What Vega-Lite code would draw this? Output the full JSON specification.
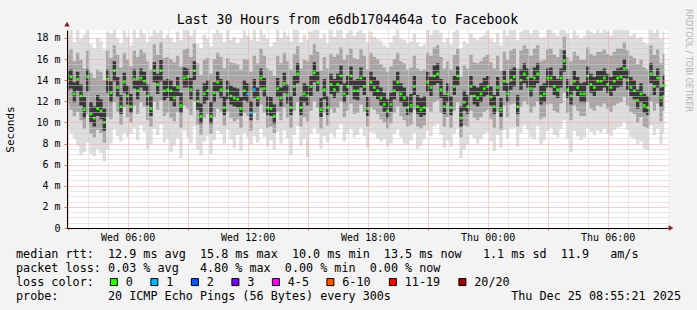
{
"$schema":"https://vega.github.io/schema/vega-lite/v6.json",
"width":601,"height":198,
"autosize":"none",
"padding":{"left":67,"top":30,"right":29,"bottom":82},
"background":"#f3f3f3",
"config":{"view":{"stroke":null,"fill":"#ffffff"},"font":"DejaVu Sans Mono"},
"title":{"text":"Last 30 Hours from e6db1704464a to Facebook","font":"DejaVu Sans Mono","fontSize":13.2,"fontWeight":"normal","color":"#000000","anchor":"middle","dx":-20,"offset":0,"dy":29,"baseline":"alphabetic"},
"datasets":{"arrx":[{"t":1990,"v":0}],"arry":[{"t":178,"v":19.3}]},
"data":{"values":[
{"t":180,"m":13.9,"a":9.6,"b":11.8,"c":13.0,"d":14.9,"e":16.5,"f":18.2,"l":"0"},
{"t":190,"m":14.3,"a":9.0,"b":11.2,"c":13.2,"d":15.0,"e":16.9,"f":18.9,"l":"0"},
{"t":200,"m":12.7,"a":8.5,"b":10.6,"c":11.9,"d":13.8,"e":15.8,"f":17.6,"l":"0"},
{"t":210,"m":14.1,"a":7.8,"b":11.0,"c":13.0,"d":14.8,"e":16.6,"f":18.8,"l":"0"},
{"t":220,"m":12.5,"a":6.9,"b":10.2,"c":11.6,"d":13.6,"e":15.9,"f":17.9,"l":"0"},
{"t":230,"m":11.2,"a":7.2,"b":9.4,"c":10.4,"d":12.4,"e":15.1,"f":18.3,"l":"0"},
{"t":240,"m":14.3,"a":8.1,"b":10.8,"c":12.9,"d":15.0,"e":16.8,"f":19.2,"l":"0"},
{"t":250,"m":10.8,"a":7.0,"b":8.9,"c":10.0,"d":11.9,"e":14.7,"f":17.4,"l":"0"},
{"t":260,"m":10.4,"a":6.8,"b":8.6,"c":9.6,"d":11.5,"e":14.2,"f":17.0,"l":"0"},
{"t":270,"m":11.3,"a":7.5,"b":9.3,"c":10.6,"d":12.6,"e":15.0,"f":18.0,"l":"0"},
{"t":280,"m":11.1,"a":7.1,"b":9.0,"c":10.3,"d":12.2,"e":14.8,"f":17.7,"l":"0"},
{"t":290,"m":10.0,"a":6.3,"b":8.1,"c":9.2,"d":11.3,"e":14.0,"f":16.9,"l":"0"},
{"t":300,"m":14.1,"a":7.4,"b":10.5,"c":12.8,"d":15.0,"e":16.8,"f":18.6,"l":"0"},
{"t":310,"m":12.8,"a":8.0,"b":10.3,"c":11.9,"d":13.9,"e":16.1,"f":18.4,"l":"0"},
{"t":320,"m":14.9,"a":9.3,"b":11.9,"c":13.9,"d":15.8,"e":17.3,"f":19.3,"l":"0"},
{"t":330,"m":13.3,"a":8.7,"b":11.0,"c":12.4,"d":14.3,"e":16.4,"f":18.0,"l":"0"},
{"t":340,"m":11.5,"a":8.2,"b":9.8,"c":10.8,"d":12.6,"e":15.2,"f":17.5,"l":"0"},
{"t":350,"m":13.8,"a":9.0,"b":11.4,"c":12.8,"d":14.7,"e":16.6,"f":18.7,"l":"0"},
{"t":360,"m":12.5,"a":8.6,"b":10.5,"c":11.7,"d":13.5,"e":15.9,"f":18.1,"l":"0"},
{"t":370,"m":11.5,"a":8.9,"b":10.0,"c":10.9,"d":12.7,"e":15.3,"f":17.3,"l":"0"},
{"t":380,"m":14.1,"a":9.5,"b":11.6,"c":13.2,"d":15.0,"e":16.8,"f":18.9,"l":"0"},
{"t":390,"m":13.0,"a":8.3,"b":10.8,"c":12.2,"d":14.0,"e":16.2,"f":18.0,"l":"0"},
{"t":400,"m":14.2,"a":9.7,"b":11.9,"c":13.3,"d":15.1,"e":16.9,"f":19.0,"l":"0"},
{"t":410,"m":13.9,"a":9.1,"b":11.5,"c":13.0,"d":14.8,"e":16.6,"f":18.4,"l":"0"},
{"t":420,"m":12.5,"a":7.5,"b":10.2,"c":11.6,"d":13.6,"e":15.8,"f":17.6,"l":"0"},
{"t":430,"m":11.3,"a":7.9,"b":9.6,"c":10.6,"d":12.5,"e":15.0,"f":18.2,"l":"0"},
{"t":440,"m":14.9,"a":9.4,"b":12.0,"c":13.8,"d":15.7,"e":17.4,"f":19.4,"l":"0"},
{"t":450,"m":13.6,"a":8.8,"b":11.2,"c":12.7,"d":14.6,"e":16.4,"f":18.5,"l":"0"},
{"t":460,"m":14.9,"a":9.8,"b":12.1,"c":13.9,"d":15.9,"e":17.6,"f":19.1,"l":"0"},
{"t":470,"m":13.0,"a":8.1,"b":10.6,"c":12.1,"d":14.0,"e":16.1,"f":17.9,"l":"0"},
{"t":480,"m":13.1,"a":8.4,"b":10.9,"c":12.3,"d":14.1,"e":16.2,"f":18.3,"l":"0"},
{"t":490,"m":13.0,"a":7.2,"b":10.4,"c":12.0,"d":14.0,"e":16.0,"f":18.0,"l":"0"},
{"t":500,"m":12.3,"a":7.8,"b":10.1,"c":11.5,"d":13.4,"e":15.7,"f":17.6,"l":"0"},
{"t":510,"m":13.3,"a":8.5,"b":11.0,"c":12.5,"d":14.3,"e":16.3,"f":18.6,"l":"0"},
{"t":520,"m":11.6,"a":6.6,"b":9.5,"c":10.9,"d":12.8,"e":15.3,"f":17.8,"l":"0"},
{"t":530,"m":14.2,"a":9.2,"b":11.6,"c":13.3,"d":15.2,"e":16.9,"f":19.1,"l":"0"},
{"t":540,"m":14.3,"a":8.6,"b":11.3,"c":13.3,"d":15.1,"e":17.0,"f":18.7,"l":"0"},
{"t":550,"m":13.1,"a":8.0,"b":10.7,"c":12.2,"d":14.2,"e":16.2,"f":18.2,"l":"0"},
{"t":560,"m":14.9,"a":9.6,"b":12.0,"c":14.0,"d":15.8,"e":17.5,"f":19.3,"l":"0"},
{"t":570,"m":12.0,"a":7.4,"b":9.8,"c":11.2,"d":13.1,"e":15.6,"f":17.4,"l":"0"},
{"t":580,"m":10.6,"a":6.9,"b":8.8,"c":9.9,"d":11.8,"e":14.5,"f":17.0,"l":"0"},
{"t":590,"m":12.7,"a":8.2,"b":10.4,"c":11.8,"d":13.7,"e":15.9,"f":18.3,"l":"0"},
{"t":600,"m":13.0,"a":8.7,"b":10.8,"c":12.1,"d":14.0,"e":16.1,"f":17.9,"l":"0"},
{"t":610,"m":10.6,"a":7.0,"b":8.9,"c":9.9,"d":11.9,"e":14.6,"f":17.2,"l":"0"},
{"t":620,"m":12.8,"a":8.3,"b":10.5,"c":11.9,"d":13.8,"e":16.0,"f":18.4,"l":"0"},
{"t":630,"m":13.8,"a":9.2,"b":11.3,"c":12.9,"d":14.8,"e":16.6,"f":18.8,"l":"0"},
{"t":640,"m":13.1,"a":8.9,"b":11.0,"c":12.3,"d":14.1,"e":16.2,"f":18.5,"l":"0"},
{"t":650,"m":11.4,"a":8.0,"b":9.7,"c":10.7,"d":12.5,"e":15.1,"f":17.6,"l":"0"},
{"t":660,"m":13.0,"a":9.3,"b":11.0,"c":12.2,"d":14.0,"e":16.1,"f":18.9,"l":"0"},
{"t":670,"m":12.5,"a":8.4,"b":10.4,"c":11.7,"d":13.5,"e":15.7,"f":17.8,"l":"0"},
{"t":680,"m":12.3,"a":7.6,"b":10.1,"c":11.5,"d":13.3,"e":15.6,"f":18.1,"l":"0"},
{"t":690,"m":12.2,"a":8.8,"b":10.3,"c":11.4,"d":13.2,"e":15.5,"f":17.5,"l":"0"},
{"t":700,"m":11.3,"a":7.3,"b":9.5,"c":10.6,"d":12.4,"e":15.0,"f":17.9,"l":"0"},
{"t":710,"m":13.0,"a":9.0,"b":10.9,"c":12.1,"d":14.0,"e":16.0,"f":18.7,"l":"0"},
{"t":720,"m":12.7,"a":8.6,"b":10.6,"c":11.9,"d":13.7,"e":15.9,"f":18.2,"l":"1"},
{"t":730,"m":10.9,"a":7.9,"b":9.2,"c":10.2,"d":12.0,"e":14.8,"f":17.8,"l":"1"},
{"t":740,"m":13.1,"a":8.7,"b":10.9,"c":12.3,"d":14.1,"e":16.3,"f":18.9,"l":"1"},
{"t":750,"m":12.3,"a":8.1,"b":10.2,"c":11.5,"d":13.3,"e":15.6,"f":17.7,"l":"0"},
{"t":760,"m":14.2,"a":9.4,"b":11.7,"c":13.3,"d":15.1,"e":17.0,"f":19.4,"l":"0"},
{"t":770,"m":13.2,"a":8.6,"b":10.9,"c":12.4,"d":14.2,"e":16.3,"f":18.3,"l":"0"},
{"t":780,"m":11.4,"a":7.7,"b":9.5,"c":10.7,"d":12.5,"e":15.1,"f":17.9,"l":"0"},
{"t":790,"m":11.3,"a":8.3,"b":9.6,"c":10.6,"d":12.4,"e":14.9,"f":17.2,"l":"0"},
{"t":800,"m":10.6,"a":7.4,"b":9.0,"c":9.9,"d":11.7,"e":14.4,"f":17.6,"l":"0"},
{"t":810,"m":13.2,"a":9.1,"b":11.0,"c":12.4,"d":14.2,"e":16.3,"f":18.8,"l":"0"},
{"t":820,"m":12.3,"a":8.0,"b":10.2,"c":11.5,"d":13.3,"e":15.6,"f":18.0,"l":"0"},
{"t":830,"m":13.7,"a":9.2,"b":11.4,"c":12.8,"d":14.7,"e":16.6,"f":18.6,"l":"0"},
{"t":840,"m":12.6,"a":8.5,"b":10.4,"c":11.8,"d":13.6,"e":15.8,"f":18.2,"l":"0"},
{"t":850,"m":11.4,"a":6.9,"b":9.5,"c":10.7,"d":12.5,"e":15.0,"f":17.7,"l":"0"},
{"t":860,"m":13.4,"a":8.8,"b":11.1,"c":12.5,"d":14.4,"e":16.5,"f":18.9,"l":"0"},
{"t":870,"m":14.6,"a":9.6,"b":11.9,"c":13.7,"d":15.6,"e":17.2,"f":19.5,"l":"0"},
{"t":880,"m":11.4,"a":7.8,"b":9.6,"c":10.7,"d":12.5,"e":15.1,"f":17.6,"l":"0"},
{"t":890,"m":12.7,"a":8.4,"b":10.5,"c":11.9,"d":13.7,"e":15.9,"f":18.3,"l":"0"},
{"t":900,"m":12.5,"a":6.7,"b":10.1,"c":11.6,"d":13.5,"e":15.8,"f":17.8,"l":"0"},
{"t":910,"m":13.4,"a":8.9,"b":11.1,"c":12.5,"d":14.4,"e":16.4,"f":18.6,"l":"0"},
{"t":920,"m":14.7,"a":9.5,"b":12.0,"c":13.8,"d":15.7,"e":17.4,"f":19.2,"l":"0"},
{"t":930,"m":13.8,"a":9.0,"b":11.4,"c":12.9,"d":14.8,"e":16.7,"f":18.8,"l":"0"},
{"t":940,"m":11.2,"a":7.5,"b":9.4,"c":10.5,"d":12.3,"e":14.9,"f":17.9,"l":"0"},
{"t":950,"m":13.1,"a":8.7,"b":10.9,"c":12.2,"d":14.1,"e":16.2,"f":18.4,"l":"0"},
{"t":960,"m":11.4,"a":8.1,"b":9.7,"c":10.7,"d":12.5,"e":15.1,"f":17.5,"l":"0"},
{"t":970,"m":13.6,"a":9.0,"b":11.3,"c":12.7,"d":14.6,"e":16.5,"f":18.9,"l":"0"},
{"t":980,"m":13.1,"a":8.6,"b":10.9,"c":12.3,"d":14.1,"e":16.2,"f":18.1,"l":"0"},
{"t":990,"m":13.6,"a":9.3,"b":11.4,"c":12.8,"d":14.6,"e":16.5,"f":18.7,"l":"0"},
{"t":1000,"m":14.4,"a":9.8,"b":12.0,"c":13.6,"d":15.4,"e":17.1,"f":19.2,"l":"0"},
{"t":1010,"m":12.7,"a":8.2,"b":10.5,"c":11.9,"d":13.7,"e":15.9,"f":18.0,"l":"0"},
{"t":1020,"m":13.4,"a":8.9,"b":11.1,"c":12.6,"d":14.4,"e":16.4,"f":18.5,"l":"0"},
{"t":1030,"m":14.4,"a":9.4,"b":11.8,"c":13.5,"d":15.3,"e":17.0,"f":19.0,"l":"0"},
{"t":1040,"m":13.0,"a":8.6,"b":10.8,"c":12.2,"d":14.0,"e":16.1,"f":18.2,"l":"0"},
{"t":1050,"m":13.0,"a":8.8,"b":10.9,"c":12.1,"d":14.1,"e":16.0,"f":18.6,"l":"0"},
{"t":1060,"m":14.2,"a":9.5,"b":11.7,"c":13.3,"d":15.2,"e":16.9,"f":18.9,"l":"0"},
{"t":1070,"m":13.4,"a":8.7,"b":11.0,"c":12.6,"d":14.3,"e":16.3,"f":18.4,"l":"0"},
{"t":1080,"m":11.3,"a":7.6,"b":9.6,"c":10.6,"d":12.4,"e":15.0,"f":17.6,"l":"0"},
{"t":1090,"m":13.8,"a":9.1,"b":11.4,"c":12.9,"d":14.8,"e":16.6,"f":18.6,"l":"0"},
{"t":1100,"m":13.3,"a":9.0,"b":11.2,"c":12.5,"d":14.3,"e":16.2,"f":18.1,"l":"0"},
{"t":1110,"m":13.0,"a":8.5,"b":10.8,"c":12.2,"d":14.0,"e":16.0,"f":17.9,"l":"0"},
{"t":1120,"m":12.3,"a":8.2,"b":10.3,"c":11.6,"d":13.3,"e":15.5,"f":17.7,"l":"0"},
{"t":1130,"m":11.7,"a":8.4,"b":10.0,"c":11.0,"d":12.8,"e":15.2,"f":17.3,"l":"0"},
{"t":1140,"m":11.1,"a":7.7,"b":9.4,"c":10.4,"d":12.2,"e":14.8,"f":17.1,"l":"0"},
{"t":1150,"m":11.7,"a":8.0,"b":9.9,"c":11.0,"d":12.8,"e":15.3,"f":17.6,"l":"0"},
{"t":1160,"m":13.0,"a":8.9,"b":10.9,"c":12.2,"d":14.0,"e":16.0,"f":18.2,"l":"0"},
{"t":1170,"m":13.8,"a":9.3,"b":11.5,"c":12.9,"d":14.8,"e":16.6,"f":18.8,"l":"0"},
{"t":1180,"m":12.7,"a":8.6,"b":10.6,"c":11.9,"d":13.7,"e":15.8,"f":17.9,"l":"0"},
{"t":1190,"m":12.3,"a":8.0,"b":10.2,"c":11.5,"d":13.3,"e":15.6,"f":17.8,"l":"0"},
{"t":1200,"m":11.4,"a":7.9,"b":9.6,"c":10.7,"d":12.5,"e":15.0,"f":17.5,"l":"0"},
{"t":1210,"m":11.6,"a":8.3,"b":9.8,"c":10.9,"d":12.7,"e":15.2,"f":17.7,"l":"0"},
{"t":1220,"m":13.4,"a":9.0,"b":11.2,"c":12.6,"d":14.4,"e":16.3,"f":18.4,"l":"0"},
{"t":1230,"m":11.5,"a":7.5,"b":9.6,"c":10.8,"d":12.6,"e":15.1,"f":17.6,"l":"0"},
{"t":1240,"m":11.2,"a":7.8,"b":9.4,"c":10.5,"d":12.3,"e":14.9,"f":17.2,"l":"0"},
{"t":1250,"m":11.4,"a":8.4,"b":9.7,"c":10.7,"d":12.5,"e":15.0,"f":17.4,"l":"0"},
{"t":1260,"m":13.8,"a":9.2,"b":11.4,"c":12.9,"d":14.8,"e":16.6,"f":18.9,"l":"0"},
{"t":1270,"m":13.3,"a":8.7,"b":11.0,"c":12.5,"d":14.3,"e":16.3,"f":18.3,"l":"0"},
{"t":1280,"m":14.4,"a":9.6,"b":11.9,"c":13.5,"d":15.4,"e":17.1,"f":19.1,"l":"0"},
{"t":1290,"m":14.6,"a":9.8,"b":12.1,"c":13.7,"d":15.6,"e":17.3,"f":18.9,"l":"0"},
{"t":1300,"m":13.1,"a":8.8,"b":10.9,"c":12.3,"d":14.1,"e":16.2,"f":18.5,"l":"0"},
{"t":1310,"m":11.5,"a":7.6,"b":9.6,"c":10.8,"d":12.6,"e":15.1,"f":17.6,"l":"0"},
{"t":1320,"m":12.7,"a":8.3,"b":10.5,"c":11.9,"d":13.7,"e":15.8,"f":18.0,"l":"0"},
{"t":1330,"m":11.4,"a":7.7,"b":9.5,"c":10.7,"d":12.5,"e":15.0,"f":17.4,"l":"0"},
{"t":1340,"m":13.4,"a":8.9,"b":11.1,"c":12.6,"d":14.4,"e":16.4,"f":18.6,"l":"0"},
{"t":1350,"m":14.4,"a":9.4,"b":11.9,"c":13.5,"d":15.3,"e":17.0,"f":19.0,"l":"0"},
{"t":1360,"m":10.4,"a":6.6,"b":8.6,"c":9.6,"d":11.5,"e":14.3,"f":17.0,"l":"0"},
{"t":1370,"m":11.9,"a":7.4,"b":9.7,"c":11.1,"d":13.0,"e":15.4,"f":17.7,"l":"0"},
{"t":1380,"m":11.5,"a":7.9,"b":9.6,"c":10.8,"d":12.6,"e":15.1,"f":17.5,"l":"0"},
{"t":1390,"m":13.4,"a":8.8,"b":11.1,"c":12.6,"d":14.4,"e":16.4,"f":18.4,"l":"0"},
{"t":1400,"m":12.5,"a":8.5,"b":10.4,"c":11.7,"d":13.5,"e":15.7,"f":18.0,"l":"0"},
{"t":1410,"m":12.3,"a":8.0,"b":10.2,"c":11.5,"d":13.3,"e":15.6,"f":17.8,"l":"0"},
{"t":1420,"m":12.7,"a":8.4,"b":10.5,"c":11.9,"d":13.7,"e":15.8,"f":18.1,"l":"0"},
{"t":1430,"m":13.2,"a":8.9,"b":11.0,"c":12.4,"d":14.2,"e":16.2,"f":18.3,"l":"0"},
{"t":1440,"m":13.4,"a":9.1,"b":11.2,"c":12.6,"d":14.4,"e":16.4,"f":18.7,"l":"0"},
{"t":1450,"m":12.4,"a":8.2,"b":10.3,"c":11.6,"d":13.4,"e":15.7,"f":17.9,"l":"0"},
{"t":1460,"m":11.5,"a":7.3,"b":9.5,"c":10.8,"d":12.6,"e":15.1,"f":17.6,"l":"0"},
{"t":1470,"m":13.3,"a":8.8,"b":11.0,"c":12.5,"d":14.3,"e":16.3,"f":18.5,"l":"0"},
{"t":1480,"m":11.2,"a":7.6,"b":9.3,"c":10.5,"d":12.3,"e":14.9,"f":17.3,"l":"0"},
{"t":1490,"m":13.9,"a":9.3,"b":11.6,"c":13.0,"d":14.9,"e":16.7,"f":18.9,"l":"0"},
{"t":1500,"m":12.7,"a":8.5,"b":10.5,"c":11.9,"d":13.7,"e":15.9,"f":18.2,"l":"0"},
{"t":1510,"m":14.0,"a":9.4,"b":11.7,"c":13.1,"d":15.0,"e":16.8,"f":18.8,"l":"0"},
{"t":1520,"m":14.3,"a":9.5,"b":11.8,"c":13.4,"d":15.2,"e":17.0,"f":19.2,"l":"0"},
{"t":1530,"m":11.5,"a":7.7,"b":9.6,"c":10.8,"d":12.6,"e":15.1,"f":17.8,"l":"0"},
{"t":1540,"m":14.0,"a":9.0,"b":11.5,"c":13.1,"d":15.0,"e":16.8,"f":18.6,"l":"0"},
{"t":1550,"m":14.6,"a":9.7,"b":12.0,"c":13.7,"d":15.6,"e":17.3,"f":19.3,"l":"0"},
{"t":1560,"m":14.2,"a":9.3,"b":11.7,"c":13.3,"d":15.1,"e":17.0,"f":19.0,"l":"0"},
{"t":1570,"m":13.2,"a":8.6,"b":10.9,"c":12.4,"d":14.2,"e":16.3,"f":18.4,"l":"0"},
{"t":1580,"m":14.2,"a":8.4,"b":11.5,"c":13.3,"d":15.2,"e":17.0,"f":18.8,"l":"0"},
{"t":1590,"m":14.6,"a":9.6,"b":12.0,"c":13.7,"d":15.6,"e":17.3,"f":19.4,"l":"0"},
{"t":1600,"m":12.5,"a":7.9,"b":10.3,"c":11.7,"d":13.5,"e":15.8,"f":18.0,"l":"0"},
{"t":1610,"m":12.7,"a":8.3,"b":10.5,"c":11.9,"d":13.7,"e":15.9,"f":18.1,"l":"0"},
{"t":1620,"m":14.2,"a":9.2,"b":11.7,"c":13.3,"d":15.1,"e":16.9,"f":18.9,"l":"0"},
{"t":1630,"m":14.2,"a":9.5,"b":11.8,"c":13.3,"d":15.2,"e":17.0,"f":19.3,"l":"0"},
{"t":1640,"m":13.4,"a":8.8,"b":11.1,"c":12.6,"d":14.4,"e":16.4,"f":18.5,"l":"0"},
{"t":1650,"m":13.1,"a":8.6,"b":10.9,"c":12.3,"d":14.1,"e":16.2,"f":18.2,"l":"0"},
{"t":1660,"m":14.2,"a":9.4,"b":11.8,"c":13.3,"d":15.1,"e":16.9,"f":19.5,"l":"0"},
{"t":1670,"m":15.8,"a":10.2,"b":12.8,"c":14.8,"d":16.8,"e":18.1,"f":19.5,"l":"0"},
{"t":1680,"m":13.1,"a":8.5,"b":10.9,"c":12.3,"d":14.1,"e":16.2,"f":18.4,"l":"0"},
{"t":1690,"m":12.5,"a":7.2,"b":10.2,"c":11.7,"d":13.5,"e":15.8,"f":17.9,"l":"0"},
{"t":1700,"m":13.9,"a":9.2,"b":11.6,"c":13.0,"d":14.9,"e":16.7,"f":18.7,"l":"0"},
{"t":1710,"m":13.3,"a":8.7,"b":11.1,"c":12.5,"d":14.3,"e":16.3,"f":18.3,"l":"0"},
{"t":1720,"m":12.7,"a":8.3,"b":10.6,"c":11.9,"d":13.7,"e":15.9,"f":18.0,"l":"0"},
{"t":1730,"m":12.7,"a":8.6,"b":10.6,"c":11.9,"d":13.8,"e":15.9,"f":18.2,"l":"0"},
{"t":1740,"m":14.4,"a":9.5,"b":11.9,"c":13.5,"d":15.3,"e":17.1,"f":19.0,"l":"0"},
{"t":1750,"m":13.6,"a":9.1,"b":11.3,"c":12.8,"d":14.6,"e":16.5,"f":18.6,"l":"0"},
{"t":1760,"m":13.3,"a":8.8,"b":11.1,"c":12.5,"d":14.3,"e":16.3,"f":18.4,"l":"0"},
{"t":1770,"m":13.9,"a":9.2,"b":11.6,"c":13.0,"d":14.9,"e":16.7,"f":18.8,"l":"0"},
{"t":1780,"m":13.9,"a":9.0,"b":11.5,"c":13.0,"d":14.9,"e":16.7,"f":18.5,"l":"0"},
{"t":1790,"m":14.2,"a":9.4,"b":11.8,"c":13.3,"d":15.1,"e":16.9,"f":18.9,"l":"0"},
{"t":1800,"m":13.6,"a":8.9,"b":11.3,"c":12.8,"d":14.6,"e":16.5,"f":18.6,"l":"0"},
{"t":1810,"m":13.3,"a":8.7,"b":11.0,"c":12.5,"d":14.3,"e":16.3,"f":18.2,"l":"0"},
{"t":1820,"m":13.9,"a":9.3,"b":11.6,"c":13.0,"d":14.9,"e":16.7,"f":18.9,"l":"0"},
{"t":1830,"m":14.2,"a":9.5,"b":11.8,"c":13.3,"d":15.1,"e":17.0,"f":19.1,"l":"0"},
{"t":1840,"m":14.3,"a":9.6,"b":11.9,"c":13.4,"d":15.2,"e":17.0,"f":18.8,"l":"0"},
{"t":1850,"m":15.1,"a":10.0,"b":12.4,"c":14.2,"d":16.0,"e":17.6,"f":19.3,"l":"0"},
{"t":1860,"m":14.0,"a":9.3,"b":11.6,"c":13.1,"d":15.0,"e":16.8,"f":18.7,"l":"0"},
{"t":1870,"m":13.3,"a":8.6,"b":11.0,"c":12.5,"d":14.3,"e":16.3,"f":18.2,"l":"0"},
{"t":1880,"m":13.0,"a":8.4,"b":10.8,"c":12.2,"d":14.0,"e":16.1,"f":18.4,"l":"0"},
{"t":1890,"m":12.1,"a":7.9,"b":10.0,"c":11.3,"d":13.1,"e":15.5,"f":17.9,"l":"0"},
{"t":1900,"m":12.7,"a":8.2,"b":10.5,"c":11.9,"d":13.7,"e":15.9,"f":18.1,"l":"0"},
{"t":1910,"m":11.6,"a":7.5,"b":9.6,"c":10.9,"d":12.7,"e":15.2,"f":17.6,"l":"0"},
{"t":1920,"m":11.4,"a":7.4,"b":9.5,"c":10.7,"d":12.5,"e":15.0,"f":17.4,"l":"0"},
{"t":1930,"m":14.6,"a":9.7,"b":12.0,"c":13.7,"d":15.6,"e":17.3,"f":19.5,"l":"0"},
{"t":1940,"m":13.4,"a":8.8,"b":11.1,"c":12.6,"d":14.4,"e":16.4,"f":18.5,"l":"0"},
{"t":1950,"m":14.2,"a":9.4,"b":11.8,"c":13.3,"d":15.1,"e":16.9,"f":18.8,"l":"0"},
{"t":1960,"m":12.3,"a":8.0,"b":10.1,"c":11.5,"d":13.3,"e":15.6,"f":17.9,"l":"0"},
{"t":1970,"m":13.5,"a":8.9,"b":11.1,"c":12.6,"d":14.5,"e":16.5,"f":18.6,"l":"0"}
]},
"encoding":{
 "x":{"field":"t","type":"quantitative","scale":{"domain":[178,1981],"nice":false,"zero":false},
  "axis":{"values":[180,240,300,360,420,480,540,600,660,720,780,840,900,960,1020,1080,1140,1200,1260,1320,1380,1440,1500,1560,1620,1680,1740,1800,1860,1920],
   "zindex":1,"grid":true,"gridDash":[1,1],"gridWidth":1,
   "gridColor":{"condition":{"test":"datum.value % 180 == 0","value":"#eaa3a3"},"value":"#cfcfcf"},
   "domain":true,"domainColor":"#000000","domainWidth":1,
   "ticks":true,"tickSize":2,"tickColor":{"condition":{"test":"datum.value % 180 == 0","value":"#e07070"},"value":"#bbbbbb"},
   "labelExpr":"datum.value % 360 ? '' : (datum.value < 1440 ? 'Wed ' : 'Thu ') + (datum.value % 1440 == 0 ? '00' : datum.value % 1440 == 360 ? '06' : datum.value % 1440 == 720 ? '12' : '18') + ':00'",
   "labelFont":"DejaVu Sans Mono","labelFontSize":10,"labelColor":"#000000","labelPadding":2.5,"labelOverlap":false,"labelFlush":false,"labelBound":false,
   "title":["median rtt:\u00a0\u00a012.9 ms avg\u00a0\u00a015.8 ms max\u00a0\u00a010.0 ms min\u00a0\u00a013.5 ms now\u00a0\u00a0\u00a01.1 ms sd\u00a0\u00a011.9\u00a0\u00a0\u00a0am/s",
            "packet loss: 0.03 % avg\u00a0\u00a0\u00a04.80 % max\u00a0\u00a00.00 % min\u00a0\u00a00.00 % now",
            "loss color:",
            "probe:\u00a0\u00a0\u00a0\u00a0\u00a0\u00a0\u00a020 ICMP Echo Pings (56 Bytes) every 300s\u00a0\u00a0\u00a0\u00a0\u00a0\u00a0\u00a0\u00a0\u00a0\u00a0\u00a0\u00a0\u00a0\u00a0\u00a0\u00a0\u00a0Thu Dec 25 08:55:21 2025"],
   "titleFont":"DejaVu Sans Mono","titleFontSize":11.75,"titleFontWeight":"normal","titleColor":"#000000",
   "titleX":-51.5,"titleY":20,"titleAlign":"left","titleBaseline":"top","titleLineHeight":14}}
},
"resolve":{"axis":{"y":"independent"}},
"layer":[
{"mark":{"type":"area","interpolate":"step","color":"#dddddd","clip":true},
 "encoding":{
  "y":{"field":"a","type":"quantitative","scale":{"domain":[0,18.75],"nice":false,"zero":true},
   "axis":{"orient":"left","values":[0,0.5,1,1.5,2,2.5,3,3.5,4,4.5,5,5.5,6,6.5,7,7.5,8,8.5,9,9.5,10,10.5,11,11.5,12,12.5,13,13.5,14,14.5,15,15.5,16,16.5,17,17.5,18,18.5],
    "zindex":1,"grid":true,"gridDash":[1,1],"gridWidth":1,
    "gridColor":{"condition":{"test":"datum.value % 2 == 0","value":"#eaa3a3"},"value":"#cfcfcf"},
    "domain":true,"domainColor":"#000000","domainWidth":1,
    "ticks":true,"tickSize":3,"tickColor":{"condition":{"test":"datum.value % 2 == 0","value":"#e07070"},"value":"#00000000"},
    "labelExpr":"datum.value % 2 ? '' : (datum.value == 0 ? '0' : datum.value + ' m')",
    "labelFont":"DejaVu Sans Mono","labelFontSize":10,"labelColor":"#000000","labelPadding":4,"labelOverlap":false,"labelFlush":false,"labelBound":false,
    "title":"Seconds","titleFont":"DejaVu Sans Mono","titleFontSize":11,"titleFontWeight":"normal","titleColor":"#000000","titlePadding":20}},
  "y2":{"field":"f"}}},
{"mark":{"type":"area","interpolate":"step","color":"#a6a6a6","clip":true},
 "encoding":{"y":{"field":"b","type":"quantitative","axis":null},"y2":{"field":"e"}}},
{"mark":{"type":"area","interpolate":"step","color":"#383838","clip":true},
 "encoding":{"y":{"field":"c","type":"quantitative","axis":null},"y2":{"field":"d"}}},
{"mark":{"type":"square","size":7,"opacity":1,"filled":true,"clip":true},
 "encoding":{
  "y":{"field":"m","type":"quantitative","axis":{"orient":"right","domain":false,"ticks":false,"labels":false,"grid":false,
    "title":"RRDTOOL / TOBI OETIKER","titleFont":"DejaVu Sans","titleFontSize":8,"titleFontWeight":"normal","titleColor":"#b0b0b0","titleAngle":90,"titleY":30,"titleAlign":"center","titleBaseline":"bottom","titlePadding":15}},
  "color":{"field":"l","type":"nominal",
   "scale":{"domain":["0","1","2","3","4-5","6-10","11-19","20/20"],"range":["#26ff00","#00b8ff","#0059ff","#7e00ff","#ff00ff","#ff5500","#ff0000","#a10000"]},
   "legend":{"title":null,"orient":"none","legendX":41,"legendY":246,"direction":"horizontal","symbolType":"square","symbolSize":49,"symbolStrokeColor":"#000000","symbolStrokeWidth":1,"symbolOpacity":1,
    "labelFont":"DejaVu Sans Mono","labelFontSize":11.75,"labelColor":"#000000","labelOffset":6,"columnPadding":15.5,"padding":0}}}},
{"data":{"name":"arrx"},"mark":{"type":"point","shape":"triangle-right","size":30,"filled":true,"opacity":1,"color":"#8b1a1a"},
 "encoding":{"y":{"field":"v","type":"quantitative","axis":null}}},
{"data":{"name":"arry"},"mark":{"type":"point","shape":"triangle-up","size":30,"filled":true,"opacity":1,"color":"#8b1a1a"},
 "encoding":{"y":{"field":"v","type":"quantitative","axis":null}}}
]
}
